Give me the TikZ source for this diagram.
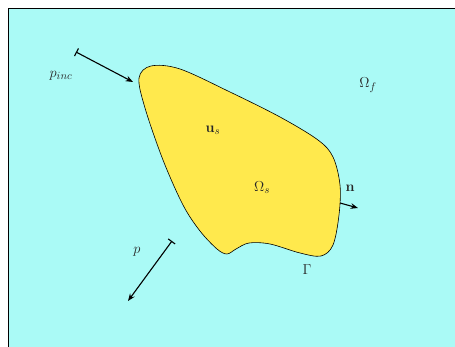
\documentclass[tikz,border=0pt]{standalone}
\usepackage{amsmath,amssymb}
\usetikzlibrary{arrows.meta}
\definecolor{fluid}{RGB}{170,250,246}
\definecolor{solid}{RGB}{255,233,77}

\begin{document}
\begin{tikzpicture}[
    x=1pt, y=-1pt,
    font=\fontsize{15}{17}\selectfont,
    lbl/.style={text=black!85, inner sep=0pt},
    arr/.style={-{Stealth[length=2.6mm, width=2mm]}, line width=1.1pt},
    barr/.style={{Bar[width=3mm]}-{Stealth[length=2.6mm, width=2mm]}, line width=1.1pt},
]
\useasboundingbox (0,0) rectangle (455,347);
\clip (0,0) rectangle (455,347);

% Fluid domain
\draw[fill=fluid, line width=0.8pt] (8,8) rectangle (480,370);

% Solid body
\draw[fill=solid, line width=0.6pt] plot[smooth cycle, tension=0.55] coordinates {
    (139,78) (151,66) (180,69) (230,92) (280,117) (318,140) (333,157)
    (340,185) (339,215) (333,245) (321,256) (300,253) (270,244) (249,243)
    (236,249) (227,254) (217,249) (200,231) (183,205) (163,160) (145,108)};

% Labels
\node[lbl] (pinc) at (61,76) {$p_{inc}$};
\node[lbl] (omf) at (368,85) {$\Omega_f$};
\node[lbl] (us) at (213,130) {$\mathbf{u}_s$};
\node[lbl] (oms) at (262,188) {$\Omega_s$};
\node[lbl] (nvec) at (350,188) {$\mathbf{n}$};
\node[lbl] (gam) at (307,270) {$\Gamma$};
\node[lbl] (pref) at (137,252) {$p$};

% Arrow ends
\coordinate (inc0) at (76,52);
\coordinate (inc1) at (133,82);
\coordinate (ref0) at (172,241);
\coordinate (ref1) at (128,301);
\coordinate (n0) at (340,203);
\coordinate (n1) at (358,208);

% Arrows
\draw[barr] (inc0) -- (inc1);
\draw[barr] (ref0) -- (ref1);
\draw[arr] (n0) -- (n1);
\end{tikzpicture}
\end{document}
